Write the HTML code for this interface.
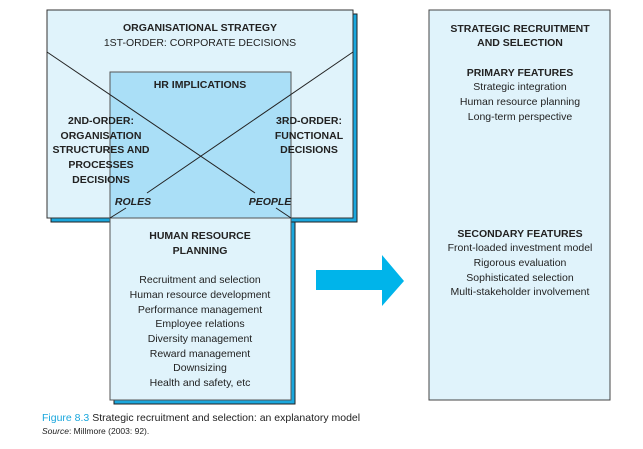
<!DOCTYPE html>
<html><head><style>body{margin:0;background:#fff}svg{display:block}</style></head><body>
<svg width="643" height="449" xmlns="http://www.w3.org/2000/svg" font-family="Liberation Sans, sans-serif" fill="#222">
<rect x="51" y="14" width="306" height="208" fill="#1aa7dd" stroke="#222" stroke-width="1"/>
<rect x="47" y="10" width="306" height="208" fill="#e0f3fb" stroke="#333" stroke-width="1"/>
<rect x="114" y="222" width="181" height="182" fill="#1aa7dd" stroke="#222" stroke-width="1"/>
<rect x="110" y="218" width="181" height="182" fill="#e0f3fb" stroke="#555" stroke-width="1"/>
<rect x="110" y="72" width="181" height="146" fill="#aadff7" stroke="#555" stroke-width="1"/>
<g stroke="#222" stroke-width="1">
<line x1="47" y1="52" x2="255" y2="193"/>
<line x1="276" y1="208" x2="291" y2="218"/>
<line x1="353" y1="52" x2="147" y2="193"/>
<line x1="126" y1="208" x2="110" y2="218"/>
</g>
<g text-anchor="middle" font-size="10.5">
<text x="200" y="31" font-weight="bold">ORGANISATIONAL STRATEGY</text>
<text x="200" y="46">1ST-ORDER: CORPORATE DECISIONS</text>
<text x="200" y="88" font-weight="bold">HR IMPLICATIONS</text>
<g font-weight="bold">
<text x="101" y="124">2ND-ORDER:</text>
<text x="101" y="139">ORGANISATION</text>
<text x="101" y="153">STRUCTURES AND</text>
<text x="101" y="168">PROCESSES</text>
<text x="101" y="183">DECISIONS</text>
<text x="309" y="124">3RD-ORDER:</text>
<text x="309" y="139">FUNCTIONAL</text>
<text x="309" y="153">DECISIONS</text>
</g>
<g font-weight="bold" font-style="italic">
<text x="133" y="205">ROLES</text>
<text x="270" y="205">PEOPLE</text>
</g>
<text x="200" y="239" font-weight="bold">HUMAN RESOURCE</text>
<text x="200" y="254" font-weight="bold">PLANNING</text>
<text x="200" y="283">Recruitment and selection</text>
<text x="200" y="298">Human resource development</text>
<text x="200" y="313">Performance management</text>
<text x="200" y="327">Employee relations</text>
<text x="200" y="342">Diversity management</text>
<text x="200" y="357">Reward management</text>
<text x="200" y="371">Downsizing</text>
<text x="200" y="386">Health and safety, etc</text>
</g>
<polygon points="316,270 382,270 382,255 404,281 382,306 382,290 316,290" fill="#00b4ea"/>
<rect x="429" y="10" width="181" height="390" fill="#e0f3fb" stroke="#444" stroke-width="1"/>
<g text-anchor="middle" font-size="10.5">
<text x="520" y="32" font-weight="bold">STRATEGIC RECRUITMENT</text>
<text x="520" y="46" font-weight="bold">AND SELECTION</text>
<text x="520" y="76" font-weight="bold">PRIMARY FEATURES</text>
<text x="520" y="90">Strategic integration</text>
<text x="520" y="105">Human resource planning</text>
<text x="520" y="120">Long-term perspective</text>
<text x="520" y="237" font-weight="bold">SECONDARY FEATURES</text>
<text x="520" y="251">Front-loaded investment model</text>
<text x="520" y="266">Rigorous evaluation</text>
<text x="520" y="281">Sophisticated selection</text>
<text x="520" y="295">Multi-stakeholder involvement</text>
</g>
<text x="42" y="421" font-size="10.5"><tspan fill="#1aa7dd">Figure 8.3</tspan> Strategic recruitment and selection: an explanatory model</text>
<text x="42" y="434" font-size="8.5"><tspan font-style="italic">Source</tspan>: Millmore (2003: 92).</text>
</svg>
</body></html>
